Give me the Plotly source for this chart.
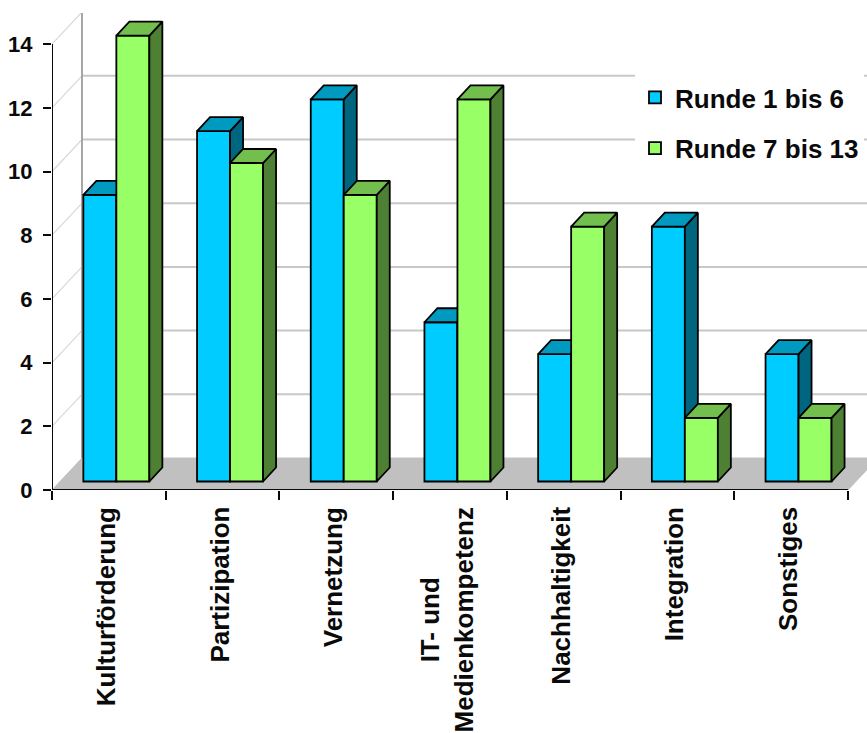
import plotly.graph_objects as go

# Survey counts per topic, grouped by funding round
categories = ["Kulturförderung", "Partizipation", "Vernetzung", "IT- und<br>Medienkompetenz",
              "Nachhaltigkeit", "Integration", "Sonstiges"]
runde_1_bis_6 = [9, 11, 12, 5, 4, 8, 4]
runde_7_bis_13 = [14, 10, 9, 12, 8, 2, 2]
y_ticks = [0, 2, 4, 6, 8, 10, 12, 14]

FONT = "Liberation Sans"
INK = "#0A0A0A"
W, H = 867, 733
LEFT, BOTTOM, TOP = 52, 243, 13
PX_X, PX_Y = 113.7, 31.85         # pixels per category / per value unit
X_RANGE = [0, (W - LEFT) / PX_X]
Y_RANGE = [0, (H - BOTTOM - TOP) / PX_Y]

# Oblique projection offsets, in axis units
WALL_DX, WALL_DY = 30 / PX_X, 32 / PX_Y
BAR_DX, BAR_DY = 13 / PX_X, 14 / PX_Y
LIFT_X, LIFT_Y = 7.5 / PX_X, 8.5 / PX_Y
BAR_W = 33 / PX_X
EDGE = 1.8


def polygons(faces):
    xs, ys = [], []
    for face in faces:
        xs += [p[0] for p in face] + [face[0][0], None]
        ys += [p[1] for p in face] + [face[0][1], None]
    return xs, ys


def bar_series(values, side, name, front, top, shade, xa, ya):
    """Front face as a bar, top and right faces as projected polygons."""
    centers = [i + 0.5 + LIFT_X + side * BAR_W / 2 for i in range(len(values))]
    tops, sides = [], []
    for c, v in zip(centers, values):
        x0, x1 = c - BAR_W / 2, c + BAR_W / 2
        t = LIFT_Y + v
        tops.append([(x0, t), (x1, t), (x1 + BAR_DX, t + BAR_DY), (x0 + BAR_DX, t + BAR_DY)])
        sides.append([(x1, LIFT_Y), (x1 + BAR_DX, LIFT_Y + BAR_DY), (x1 + BAR_DX, t + BAR_DY), (x1, t)])
    out = [go.Bar(x=centers, y=values, base=LIFT_Y, width=BAR_W, name=name, legendgroup=name,
                  marker=dict(color=front, line=dict(color="black", width=EDGE)),
                  xaxis=xa, yaxis=ya)]
    for faces, col in ((sides, shade), (tops, top)):
        fx, fy = polygons(faces)
        out.append(go.Scatter(x=fx, y=fy, mode="lines", fill="toself", fillcolor=col,
                              line=dict(color="black", width=EDGE), showlegend=False,
                              hoverinfo="skip", xaxis=xa, yaxis=ya))
    return out


def line(xs, ys, color, width):
    return go.Scatter(x=xs, y=ys, mode="lines", line=dict(color=color, width=width),
                      showlegend=False, hoverinfo="skip", cliponaxis=False)


fig = go.Figure()

# Floor of the chart box
n = len(categories)
fx, fy = polygons([[(0, 0), (n, 0), (n + WALL_DX, WALL_DY), (WALL_DX, WALL_DY)]])
fig.add_trace(go.Scatter(x=fx, y=fy, mode="lines", fill="toself", fillcolor="#C0C0C0",
                         line=dict(color="#C0C0C0", width=1), showlegend=False, hoverinfo="skip"))

# Gridlines on the side and back walls
for v in y_ticks[1:]:
    fig.add_trace(line([0, WALL_DX], [v, v + WALL_DY], "#D8D8D8", 1.2))
    fig.add_trace(line([WALL_DX, X_RANGE[1]], [v + WALL_DY, v + WALL_DY], "#C8C8C8" if v < 14 else "#A6A6A6", 2))
fig.add_trace(line([WALL_DX, WALL_DX], [WALL_DY, y_ticks[-1] + WALL_DY], "#A6A6A6", 2))

# Front axis lines stop at the box corners
fig.add_trace(line([0, n], [0, 0], INK, 2))
fig.add_trace(line([0, 0], [0, y_ticks[-1]], INK, 2))

fig.add_traces(bar_series(runde_1_bis_6, -1, "Runde 1 bis 6", "#00CCFF", "#0099BF", "#006680", "x2", "y2"))
fig.add_traces(bar_series(runde_7_bis_13, 1, "Runde 7 bis 13", "#99FF66", "#73BF4D", "#4D8033", "x3", "y3"))

# Category labels stay centred line by line
for i, label in enumerate(categories):
    fig.add_annotation(x=i + 0.5, y=0, xref="x", yref="y", text=label, textangle=-90,
                       showarrow=False, xanchor="center", yanchor="top", yshift=-15, xshift=-3, align="center",
                       font=dict(family=FONT, size=26, color=INK, weight=700))

hidden = dict(range=X_RANGE, visible=False, overlaying="x")
hidden_y = dict(range=Y_RANGE, visible=False, overlaying="y")
fig.update_layout(
    width=W, height=H, margin=dict(l=LEFT, r=0, t=TOP, b=BOTTOM, autoexpand=False),
    paper_bgcolor="white", plot_bgcolor="white", barmode="overlay", hovermode=False,
    xaxis=dict(range=X_RANGE, showgrid=False, zeroline=False, showline=False, showticklabels=False,
               tickmode="array", tickvals=list(range(n + 1)), ticks="outside", ticklen=9, tickwidth=2,
               tickcolor=INK),
    yaxis=dict(range=Y_RANGE, showgrid=False, zeroline=False, showline=False, tickmode="array",
               tickvals=y_ticks, ticktext=[str(v) for v in y_ticks], ticks="outside", ticklen=8,
               tickwidth=2, tickcolor=INK, ticklabelstandoff=6,
               tickfont=dict(family=FONT, size=22, color=INK, weight=700)),
    xaxis2=hidden, yaxis2=hidden_y, xaxis3=hidden, yaxis3=hidden_y,
    legend=dict(x=(635 - LEFT) / (W - LEFT), xanchor="left", y=1 - (74 - TOP) / (H - BOTTOM - TOP), yanchor="top",
                bgcolor="white", borderwidth=0, tracegroupgap=14, itemclick=False, itemdoubleclick=False,
                font=dict(family=FONT, size=26, color=INK, weight=700)),
    showlegend=True,
)

fig.write_html("out.html")
